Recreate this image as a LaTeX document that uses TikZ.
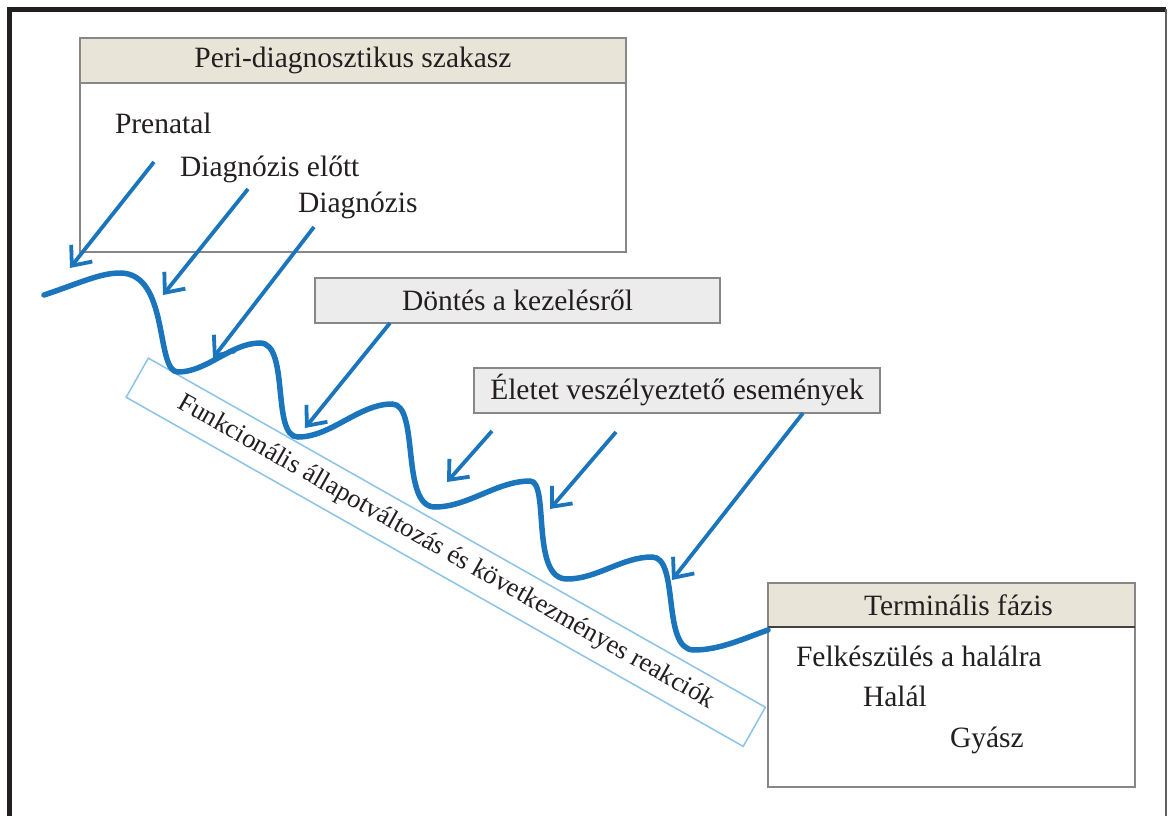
\documentclass[tikz,border=0pt]{standalone}
\usepackage{fontspec}
\setmainfont{Liberation Serif}
\usetikzlibrary{arrows.meta}
\definecolor{wblue}{RGB}{27,117,188}
\definecolor{lblue}{RGB}{140,195,232}
\definecolor{beige}{RGB}{232,229,216}
\definecolor{boxgray}{RGB}{236,236,236}
\definecolor{edgegray}{RGB}{135,135,135}
\definecolor{framecol}{RGB}{35,31,32}
\definecolor{inkcol}{RGB}{35,31,32}
\begin{document}
\begin{tikzpicture}[x=1pt,y=-1pt,
  every node/.style={font=\fontsize{29.5}{35}\selectfont, text=inkcol, inner sep=0pt, outer sep=0pt},
  headbox/.style={draw=edgegray, line width=1.8pt, fill=beige, rectangle},
  bodybox/.style={draw=edgegray, line width=1.8pt, fill=white, rectangle},
  graybox/.style={draw=edgegray, line width=1.8pt, fill=boxgray, rectangle},
  bandbox/.style={draw=lblue, line width=1.5pt, rectangle, font=\fontsize{26.5}{32}\selectfont},
  label/.style={anchor=base west},
  wave/.style={draw=wblue, line width=5.5pt, line cap=round},
  arr/.style={draw=wblue, line width=3.8pt, -{Straight Barb[length=16pt,width=27pt]}}
]
\useasboundingbox (0,0) rectangle (1168,816);
\fill[white] (0,0) rectangle (1168,816);
% frame
\draw[framecol, line width=5pt] (9.5,816) -- (9.5,9.5) -- (1166,9.5);
\draw[edgegray!70!black, line width=1.5pt] (1166,9.5) -- (1166,816);

% band
\node[bandbox, rotate=-29.5, minimum width=709pt, minimum height=45pt] (band) at (445.75,552.25) {Funkcionális állapotváltozás és következményes reakciók};

% peri-diagnostic panel
\node[bodybox, minimum width=546pt, minimum height=169pt] (peribody) at (353,167.5) {};
\node[headbox, minimum width=546pt, minimum height=45pt] (perihead) at (353,60.5) {Peri-diagnosztikus szakasz};
\node[label] (prenatal) at (115,133) {Prenatal};
\node[label] (elott) at (180,176) {Diagnózis előtt};
\node[label] (diag) at (298,212) {Diagnózis};

% gray boxes
\node[graybox, minimum width=405pt, minimum height=45pt] (dontes) at (517.5,300.5) {Döntés a kezelésről};
\node[graybox, minimum width=406pt, minimum height=45pt] (eletet) at (677,390.5) {Életet veszélyeztető események};

% terminal panel
\node[bodybox, minimum width=367pt, minimum height=160pt] (termbody) at (951.5,707) {};
\node[headbox, minimum width=367pt, minimum height=44pt] (termhead) at (951.5,605) {\hspace*{14pt}Terminális fázis};
\draw[inkcol!85, line width=2pt] (termhead.south west) -- (termhead.south east);
\node[label] (felk) at (796,666) {Felkészülés a halálra};
\node[label] (halal) at (863,706) {Halál};
\node[label] (gyasz) at (950,747) {Gyász};

% wave
\coordinate (wstart) at (44,295);
\coordinate (wend) at (768,630);
\draw[wave] (wstart) .. controls (80,283) and (100,273) .. (120,273)
  .. controls (170,273) and (155,372) .. (178,372)
  .. controls (207,372) and (231,343) .. (260,343)
  .. controls (290,343) and (271,437) .. (298,437)
  .. controls (331,437) and (359,404) .. (392,404)
  .. controls (420,404) and (400,507) .. (435,507)
  .. controls (468,507) and (497,481) .. (530,481)
  .. controls (550,481) and (530,579) .. (567,579)
  .. controls (597,579) and (622,557) .. (652,557)
  .. controls (680,557) and (661,650) .. (694,650)
  .. controls (720,650) and (745,638) .. (wend);

% arrows
\coordinate (a1s) at (154,162);  \coordinate (a1e) at (70,268);
\coordinate (a2s) at (248,189);  \coordinate (a2e) at (163,295);
\coordinate (a3s) at (314,227);  \coordinate (a3e) at (213,358);
\coordinate (a4s) at (390,323);  \coordinate (a4e) at (305,428);
\coordinate (a5s) at (492,431);  \coordinate (a5e) at (447,482);
\coordinate (a6s) at (616,432);  \coordinate (a6e) at (550,509);
\coordinate (a7s) at (803,413);  \coordinate (a7e) at (672,580);
\draw[arr] (a1s) -- (a1e);
\draw[arr] (a2s) -- (a2e);
\draw[arr] (a3s) -- (a3e);
\draw[arr] (a4s) -- (a4e);
\draw[arr] (a5s) -- (a5e);
\draw[arr] (a6s) -- (a6e);
\draw[arr] (a7s) -- (a7e);
\end{tikzpicture}
\end{document}
